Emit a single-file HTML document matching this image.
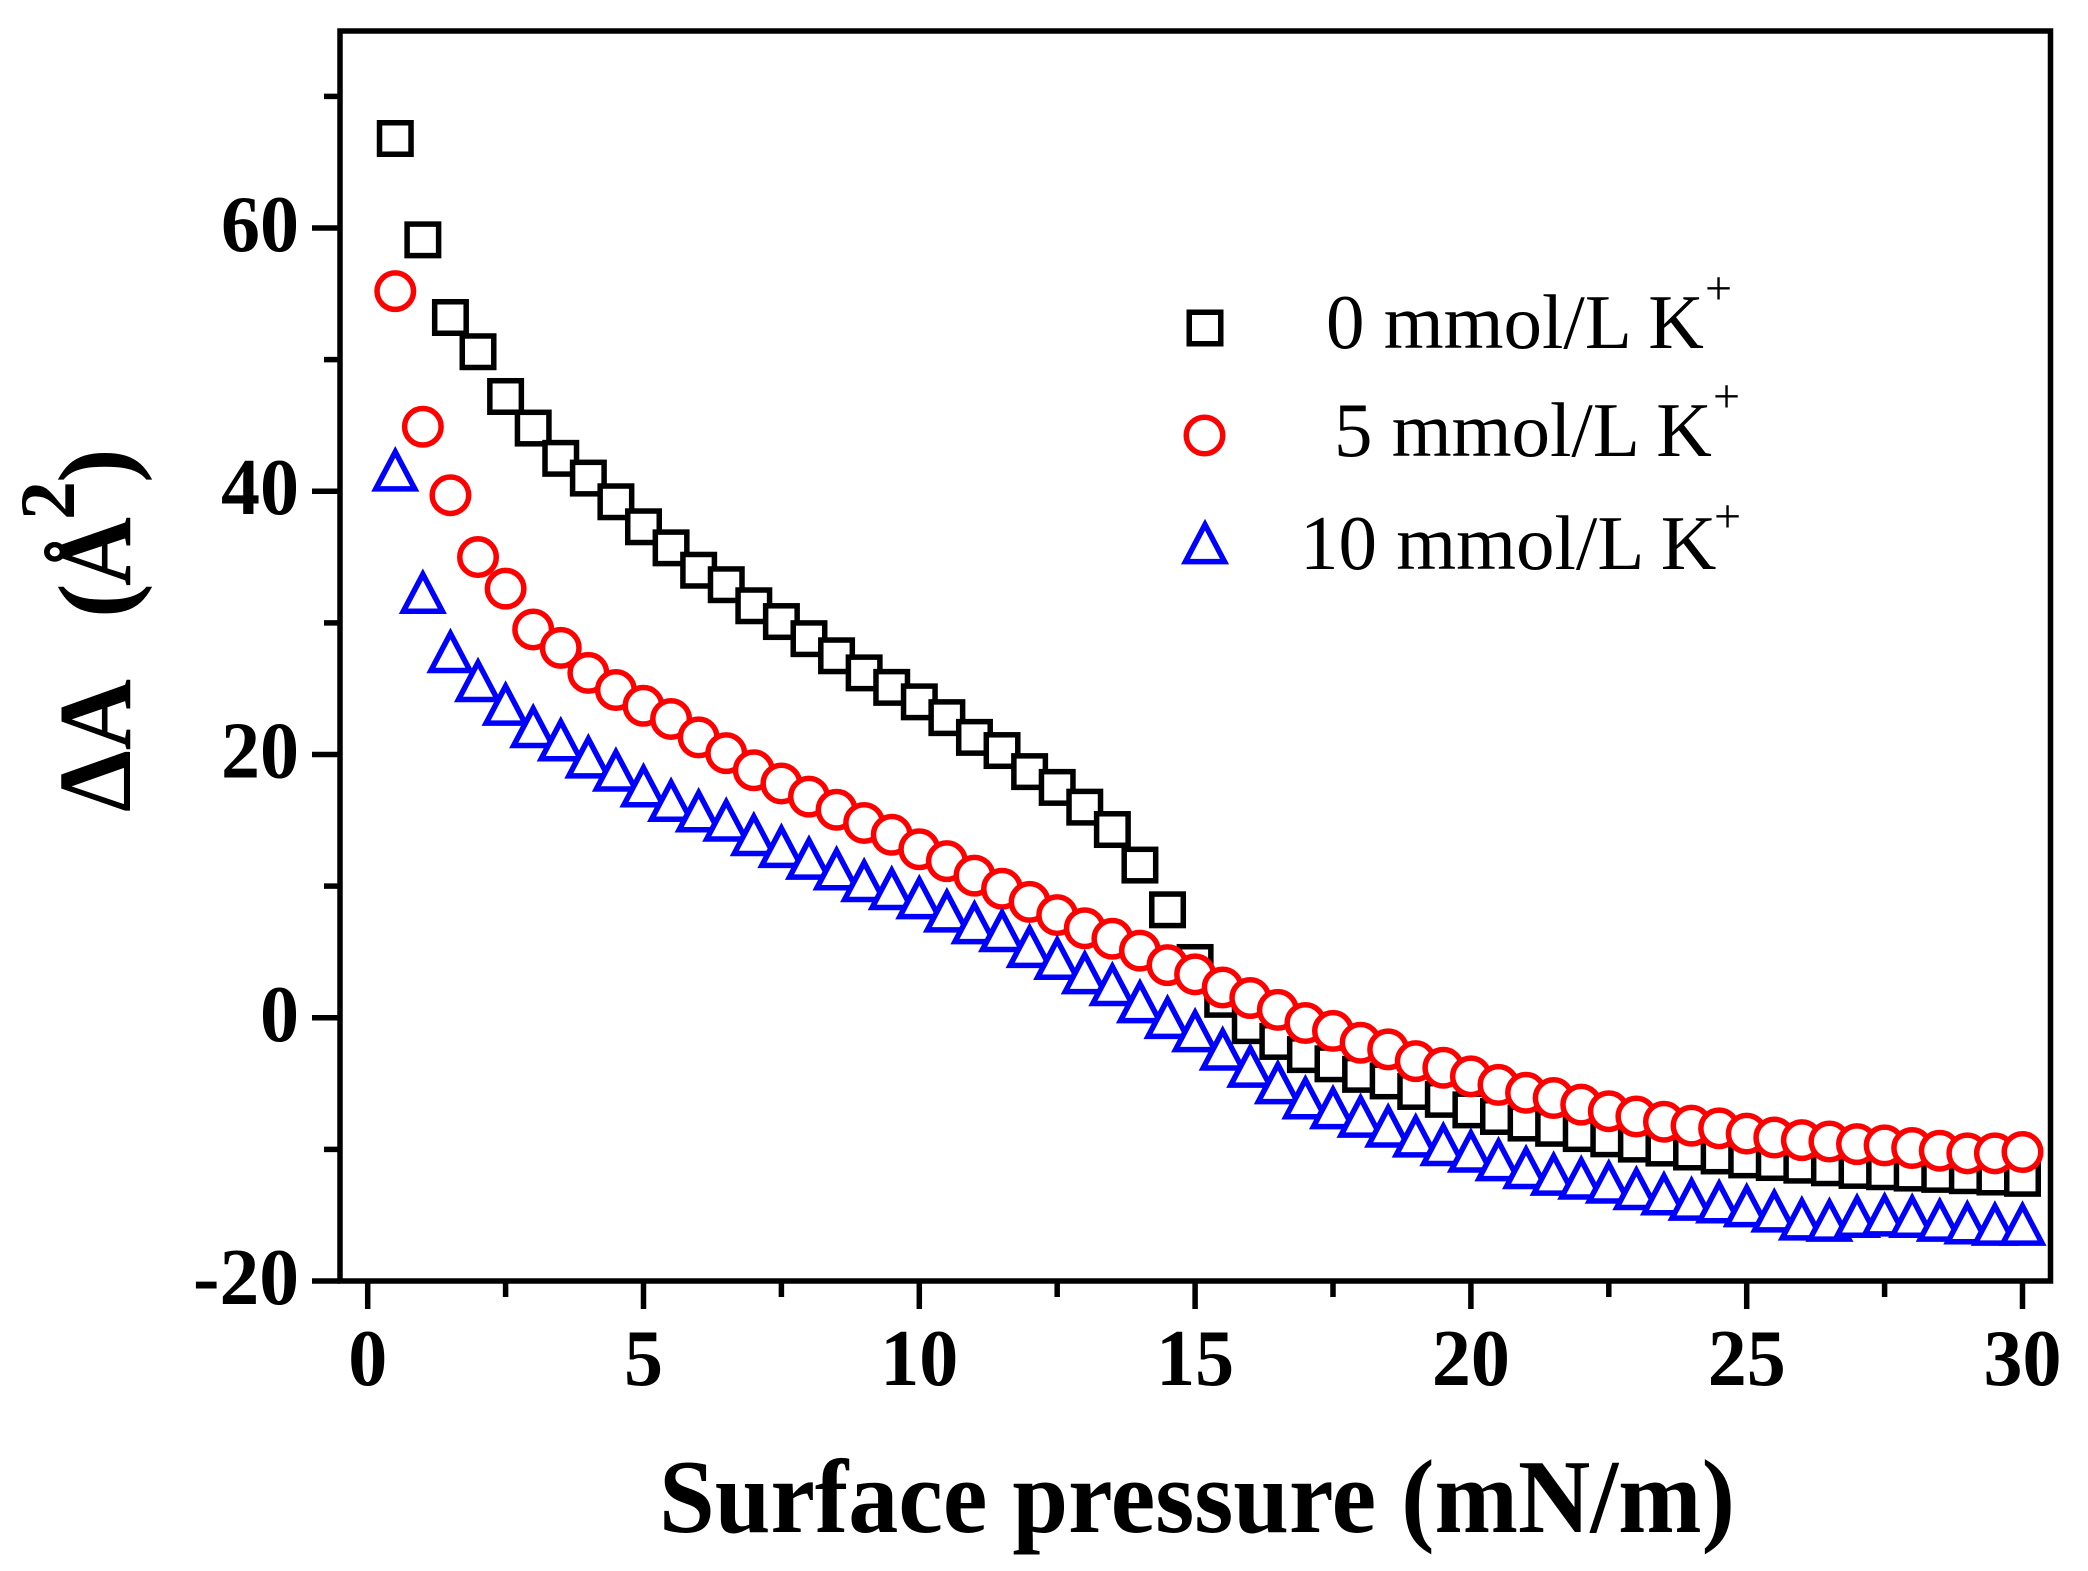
<!DOCTYPE html>
<html>
<head>
<meta charset="utf-8">
<style>
html,body{margin:0;padding:0;background:#fff;}
svg{display:block;}
text{font-family:"Liberation Serif","Times New Roman",serif;}
</style>
</head>
<body>
<svg width="2088" height="1571" viewBox="0 0 2088 1571" xmlns="http://www.w3.org/2000/svg">
<defs>
  <marker id="mSq" markerUnits="userSpaceOnUse" overflow="visible" markerWidth="1" markerHeight="1" refX="0" refY="0">
    <g transform="scale(0.0181291 -0.0759734)">
      <rect x="-15.75" y="-15.75" width="31.5" height="31.5" fill="#fff" stroke="#000" stroke-width="5.5"/>
    </g>
  </marker>
  <marker id="mCi" markerUnits="userSpaceOnUse" overflow="visible" markerWidth="1" markerHeight="1" refX="0" refY="0">
    <g transform="scale(0.0181291 -0.0759734)">
      <circle cx="0" cy="0" r="18.25" fill="#fff" stroke="#ff0000" stroke-width="5.5"/>
    </g>
  </marker>
  <marker id="mTr" markerUnits="userSpaceOnUse" overflow="visible" markerWidth="1" markerHeight="1" refX="0" refY="0">
    <g transform="scale(0.0181291 -0.0759734)">
      <path d="M0,-17 L19.5,20 L-19.5,20 Z" fill="#fff" stroke="#0000ff" stroke-width="5.5" stroke-linejoin="miter"/>
    </g>
  </marker>
</defs>

<!-- data -->
<g transform="translate(367.7 1017.75) scale(55.16 -13.1625)">
  <polyline fill="none" stroke="none" marker-start="url(#mSq)" marker-mid="url(#mSq)" marker-end="url(#mSq)"
   points="0.5,66.8 1,59.1 1.5,53.2 2,50.6 2.5,47.2 3,44.8 3.5,42.5 4,41.0 4.5,39.2 5,37.3 5.5,35.7 6,34.0 6.5,32.9 7,31.3 7.5,30.1 8,28.8 8.5,27.5 9,26.2 9.5,25.1 10,24.0 10.5,22.8 11,21.3 11.5,20.3 12,18.7 12.5,17.5 13,16.0 13.5,14.3 14,11.6 14.5,8.2 15,4.2 15.5,1.4 16,-0.6 16.5,-1.8 17,-2.8 17.5,-3.5 18,-4.3 18.5,-4.8 19,-5.6 19.5,-6.2 20,-7.0 20.5,-7.5 21,-8.0 21.5,-8.4 22,-8.8 22.5,-9.2 23,-9.6 23.5,-9.9 24,-10.2 24.5,-10.5 25,-10.8 25.5,-11.0 26,-11.2 26.5,-11.4 27,-11.6 27.5,-11.7 28,-11.8 28.5,-11.9 29,-12.0 29.5,-12.1 30,-12.2"/>
  <polyline fill="none" stroke="none" marker-start="url(#mCi)" marker-mid="url(#mCi)" marker-end="url(#mCi)"
   points="0.5,55.2 1,44.9 1.5,39.7 2,35.0 2.5,32.6 3,29.5 3.5,28.1 4,26.2 4.5,24.9 5,23.7 5.5,22.7 6,21.3 6.5,20.1 7,18.8 7.5,17.8 8,16.8 8.5,15.8 9,14.8 9.5,13.9 10,12.8 10.5,11.9 11,10.8 11.5,9.8 12,8.8 12.5,7.8 13,6.8 13.5,6.0 14,5.1 14.5,4.0 15,3.3 15.5,2.3 16,1.5 16.5,0.6 17,-0.4 17.5,-1.0 18,-1.9 18.5,-2.4 19,-3.3 19.5,-3.8 20,-4.45 20.5,-5.1 21,-5.7 21.5,-6.1 22,-6.6 22.5,-7.1 23,-7.5 23.5,-7.9 24,-8.2 24.5,-8.4 25,-8.8 25.5,-9.1 26,-9.3 26.5,-9.4 27,-9.6 27.5,-9.7 28,-9.9 28.5,-10.1 29,-10.3 29.5,-10.3 30,-10.2"/>
  <polyline fill="none" stroke="none" marker-start="url(#mTr)" marker-mid="url(#mTr)" marker-end="url(#mTr)"
   points="0.5,41.7 1,32.4 1.5,27.9 2,25.7 2.5,23.9 3,22.2 3.5,21.2 4,19.9 4.5,18.9 5,17.7 5.5,16.6 6,15.8 6.5,15.1 7,14.0 7.5,13.1 8,12.2 8.5,11.4 9,10.5 9.5,9.9 10,9.2 10.5,8.2 11,7.3 11.5,6.7 12,5.5 12.5,4.6 13,3.5 13.5,2.6 14,1.3 14.5,0.1 15,-0.9 15.5,-2.3 16,-3.6 16.5,-4.85 17,-6.0 17.5,-6.75 18,-7.4 18.5,-8.15 19,-8.9 19.5,-9.55 20,-10.05 20.5,-10.7 21,-11.3 21.5,-11.8 22,-12.1 22.5,-12.4 23,-12.9 23.5,-13.3 24,-13.7 24.5,-13.9 25,-14.2 25.5,-14.6 26,-15.2 26.5,-15.3 27,-15.0 27.5,-14.9 28,-15.0 28.5,-15.3 29,-15.5 29.5,-15.6 30,-15.6"/>
</g>

<!-- frame -->
<rect x="340" y="31" width="1710.5" height="1250" fill="none" stroke="#000" stroke-width="5.5" stroke-linejoin="miter"/>

<!-- ticks -->
<g stroke="#000" stroke-width="5.5" fill="none">
  <!-- x major -->
  <line x1="367.7" y1="1281" x2="367.7" y2="1309"/>
  <line x1="643.5" y1="1281" x2="643.5" y2="1309"/>
  <line x1="919.3" y1="1281" x2="919.3" y2="1309"/>
  <line x1="1195.1" y1="1281" x2="1195.1" y2="1309"/>
  <line x1="1470.9" y1="1281" x2="1470.9" y2="1309"/>
  <line x1="1746.7" y1="1281" x2="1746.7" y2="1309"/>
  <line x1="2022.5" y1="1281" x2="2022.5" y2="1309"/>
  <!-- x minor -->
  <line x1="505.6" y1="1281" x2="505.6" y2="1297"/>
  <line x1="781.4" y1="1281" x2="781.4" y2="1297"/>
  <line x1="1057.2" y1="1281" x2="1057.2" y2="1297"/>
  <line x1="1333" y1="1281" x2="1333" y2="1297"/>
  <line x1="1608.8" y1="1281" x2="1608.8" y2="1297"/>
  <line x1="1884.6" y1="1281" x2="1884.6" y2="1297"/>
  <!-- y major -->
  <line x1="340" y1="1281" x2="312" y2="1281"/>
  <line x1="340" y1="1017.75" x2="312" y2="1017.75"/>
  <line x1="340" y1="754.5" x2="312" y2="754.5"/>
  <line x1="340" y1="491.25" x2="312" y2="491.25"/>
  <line x1="340" y1="228" x2="312" y2="228"/>
  <!-- y minor -->
  <line x1="340" y1="1149.4" x2="324" y2="1149.4"/>
  <line x1="340" y1="886.1" x2="324" y2="886.1"/>
  <line x1="340" y1="622.9" x2="324" y2="622.9"/>
  <line x1="340" y1="359.6" x2="324" y2="359.6"/>
  <line x1="340" y1="96.4" x2="324" y2="96.4"/>
</g>

<!-- y tick labels -->
<g font-size="80" font-weight="bold" text-anchor="end" fill="#000">
  <text x="299" y="251" textLength="78" lengthAdjust="spacingAndGlyphs">60</text>
  <text x="299" y="514" textLength="78" lengthAdjust="spacingAndGlyphs">40</text>
  <text x="299" y="777.5" textLength="78" lengthAdjust="spacingAndGlyphs">20</text>
  <text x="299" y="1041" textLength="39" lengthAdjust="spacingAndGlyphs">0</text>
  <text x="299" y="1304" textLength="106" lengthAdjust="spacingAndGlyphs">-20</text>
</g>

<!-- x tick labels -->
<g font-size="80" font-weight="bold" text-anchor="middle" fill="#000">
  <text x="367.7" y="1385" textLength="39" lengthAdjust="spacingAndGlyphs">0</text>
  <text x="643.5" y="1385" textLength="39" lengthAdjust="spacingAndGlyphs">5</text>
  <text x="919.3" y="1385" textLength="78" lengthAdjust="spacingAndGlyphs">10</text>
  <text x="1195.1" y="1385" textLength="78" lengthAdjust="spacingAndGlyphs">15</text>
  <text x="1470.9" y="1385" textLength="78" lengthAdjust="spacingAndGlyphs">20</text>
  <text x="1746.7" y="1385" textLength="78" lengthAdjust="spacingAndGlyphs">25</text>
  <text x="2022.5" y="1385" textLength="78" lengthAdjust="spacingAndGlyphs">30</text>
</g>

<!-- x title -->
<text x="659" y="1532" font-size="105" font-weight="bold" textLength="1076" lengthAdjust="spacingAndGlyphs">Surface pressure (mN/m)</text>

<!-- y title -->
<g transform="rotate(-90)" font-weight="bold" fill="#000">
  <text x="-812" y="130" font-size="104" textLength="133" lengthAdjust="spacingAndGlyphs">ΔA</text>
  <text x="-618" y="130" font-size="104">(</text>
  <text x="-586" y="130" font-size="104" textLength="69" lengthAdjust="spacingAndGlyphs">Å</text>
  <text x="-520" y="74" font-size="78">2</text>
  <text x="-483" y="130" font-size="104">)</text>
</g>

<!-- legend -->
<rect x="1189.25" y="312.25" width="31.5" height="31.5" fill="#fff" stroke="#000" stroke-width="5.5"/>
<circle cx="1204.5" cy="435.5" r="18.25" fill="#fff" stroke="#ff0000" stroke-width="5.5"/>
<path d="M1205,524.6 L1224.5,561.6 L1185.5,561.6 Z" fill="#fff" stroke="#0000ff" stroke-width="5.5" stroke-linejoin="miter"/>

<g font-size="77" fill="#000">
  <text x="1326" y="348">0 mmol/L K</text>
  <text x="1705" y="304" font-size="48">+</text>
  <text x="1334" y="456">5 mmol/L K</text>
  <text x="1713" y="412" font-size="48">+</text>
  <text x="1300" y="569">10 mmol/L K</text>
  <text x="1714" y="532" font-size="48">+</text>
</g>
</svg>
</body>
</html>
